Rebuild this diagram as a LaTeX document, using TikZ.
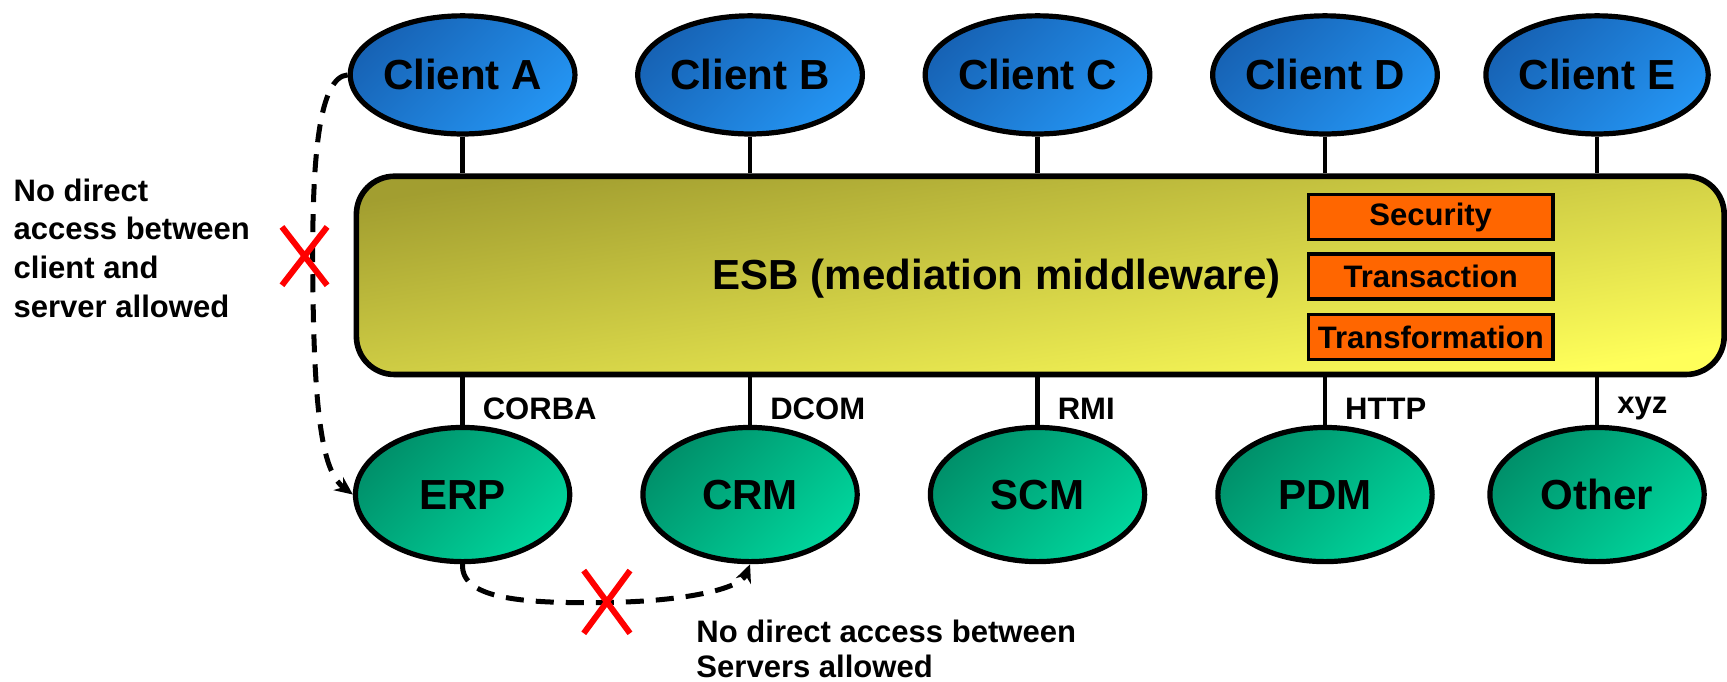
\documentclass[tikz,border=0pt]{standalone}
\usepackage{fontspec}
\setmainfont{Liberation Sans}
\usetikzlibrary{shapes.geometric,arrows.meta}

\definecolor{clientdark}{HTML}{1763B5}
\definecolor{clientlight}{HTML}{2494F2}
\definecolor{serverdark}{HTML}{00906A}
\definecolor{serverlight}{HTML}{00D59C}
\definecolor{esbdark}{HTML}{A29E30}
\definecolor{esblight}{HTML}{FFFF5A}
\definecolor{esborange}{HTML}{FF6600}

\tikzset{
	client/.style={ellipse, draw=black, line width=2.6pt, inner sep=0pt,
		minimum width=111pt, minimum height=59pt,
		top color=clientdark, bottom color=clientlight, shading angle=45,
		font=\bfseries\fontsize{21}{25}\selectfont},
	server/.style={ellipse, draw=black, line width=2.6pt, inner sep=0pt,
		minimum width=107pt, minimum height=67pt,
		top color=serverdark, bottom color=serverlight, shading angle=45,
		font=\bfseries\fontsize{21}{25}\selectfont},
	bus/.style={rectangle, draw=black, line width=2.8pt, rounded corners=19pt,
		minimum width=683pt, minimum height=99pt,
		top color=esbdark, bottom color=esblight, shading angle=9},
	service/.style={rectangle, draw=black, line width=1.6pt, fill=esborange,
		inner sep=0pt, minimum width=122pt, minimum height=22.5pt,
		font=\bfseries\fontsize{15.5}{18}\selectfont},
	proto/.style={anchor=west, inner sep=0pt, font=\bfseries\fontsize{15.5}{18}\selectfont},
	note/.style={anchor=north west, align=left, inner sep=0pt},
	link/.style={line width=2.2pt},
	noaccess/.style={line width=2.5pt, dash pattern=on 9pt off 6pt,
		-{Stealth[length=9pt,width=8pt]}},
	cross/.style={red, line width=3pt},
}

\begin{document}
\begin{tikzpicture}[x=0.55pt,y=-0.55pt]
	%%%%% START %%%%%
	\def\ytop{68}
	\def\ybot{449}
	\def\ylab{371}

	\useasboundingbox (0,0) rectangle (1568,619);

	% the bus
	\node[bus] (esb) at (944.5,250) {};
	\node[font=\bfseries\fontsize{21}{25}\selectfont] (esbtext) at (905,253) {ESB (mediation middleware)};
	\node[service] (sec) at (1299,197) {Security};
	\node[service] (tra) at (1299,251) {Transaction};
	\node[service] (tfm) at (1299,306) {Transformation};

	% clients on top
	\foreach \n/\x in {A/420,B/681,C/942,D/1203,E/1450}{
		\node[client] (c\n) at (\x,\ytop) {Client \n};
		\draw[link] (c\n.south) -- (c\n.south |- esb.north);
	}

	% servers below
	\foreach \n/\x/\p in {erp/420/CORBA,crm/681/DCOM,scm/942/RMI,pdm/1203/HTTP,oth/1450/xyz}{
		\node[server] (\n) at (\x,\ybot) {};
		\draw[link] (\n.north |- esb.south) -- (\n.north);
		\node[proto] (p\n) at (\x+18,\ylab) {\p};
	}
	\node[font=\bfseries\fontsize{21}{25}\selectfont] at (erp) {ERP};
	\node[font=\bfseries\fontsize{21}{25}\selectfont] at (crm) {CRM};
	\node[font=\bfseries\fontsize{21}{25}\selectfont] at (scm) {SCM};
	\node[font=\bfseries\fontsize{21}{25}\selectfont] at (pdm) {PDM};
	\node[font=\bfseries\fontsize{21}{25}\selectfont] at (oth) {Other};

	% forbidden paths
	\draw[noaccess] (cA.west) .. controls (290,70) and (283,140) .. (284,250)
		.. controls (285,390) and (295,430) .. (erp.west);
	\draw[noaccess] (erp.south) .. controls (418,545) and (480,548) .. (551,547)
		.. controls (620,546) and (672,535) .. (crm.south);

	\draw[cross] (256,206) -- (297,259) (297,206) -- (256,259);
	\draw[cross] (530,518) -- (572,575) (572,518) -- (530,575);

	\node[note, font=\bfseries\fontsize{15.5}{19.3}\selectfont] (leftnote) at (12,162)
		{No direct\\access between\\client and\\server allowed};
	\node[note, font=\bfseries\fontsize{15.5}{17}\selectfont] (botnote) at (632,563)
		{No direct access between\\Servers allowed};
	%%%%% START %%%%%
\end{tikzpicture}
\end{document}
